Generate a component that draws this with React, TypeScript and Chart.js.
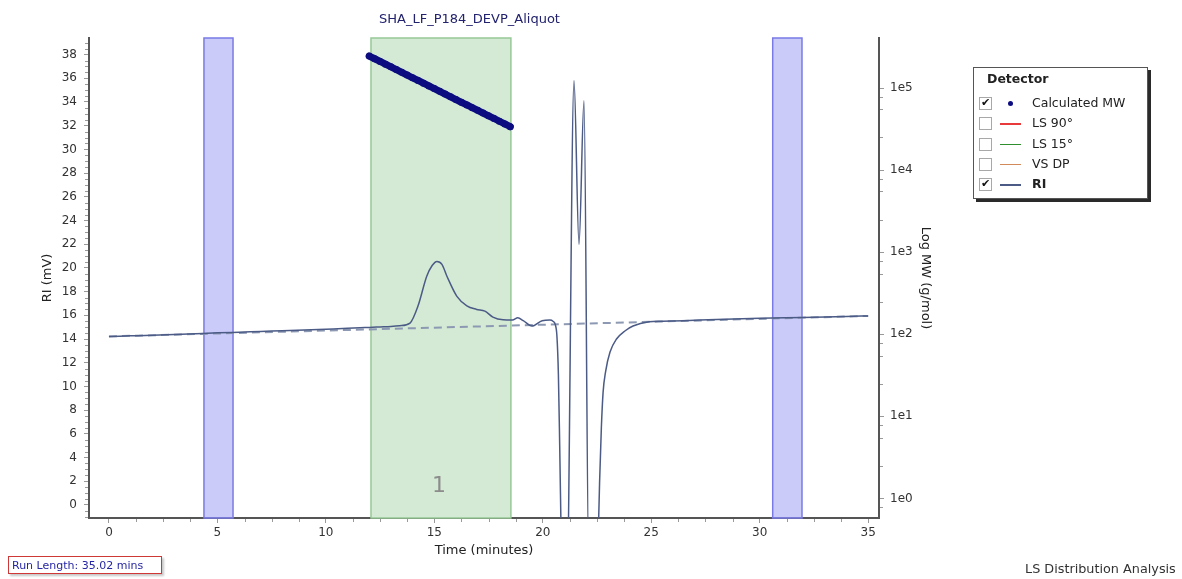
import React, { useEffect, useRef } from 'react';
import { Chart, registerables } from 'chart.js';

Chart.register(...registerables);

const chartTitle = 'SHA_LF_P184_DEVP_Aliquot';
const xAxisTitle = 'Time (minutes)';
const yAxisTitle = 'RI (mV)';
const y2AxisTitle = 'Log MW (g/mol)';
const footerLeft = 'Run Length: 35.02 mins';
const footerRight = 'LS Distribution Analysis';

const logTickValues = [1, 10, 100, 1000, 10000, 100000];
const logTickLabels = ['1e0', '1e1', '1e2', '1e3', '1e4', '1e5'];

const riTime = [0, 1, 2, 3, 4, 5, 6, 7, 8, 9, 10, 11, 11.57, 12, 12.5, 13, 13.4, 13.88, 14.25, 14.65, 14.9, 15.12, 15.35, 15.58, 16.04, 16.5, 16.95, 17.33, 17.7, 18.17, 18.6, 18.85, 19.1, 19.5, 19.97, 20.33, 20.47, 20.58, 20.65, 20.72, 20.78, 20.85, 20.9, 21.1, 21.44, 21.67, 21.9, 22.12, 22.5, 22.55, 22.62, 22.7, 22.78, 22.9, 23.1, 23.4, 23.8, 24.16, 24.9, 25.5, 26.5, 28, 30, 32, 34, 35];
const riValue = [14.22, 14.27, 14.32, 14.38, 14.45, 14.52, 14.58, 14.64, 14.70, 14.76, 14.83, 14.9, 14.95, 14.98, 15.02, 15.06, 15.12, 15.35, 16.8, 19.3, 20.2, 20.55, 20.3, 19.3, 17.6, 16.8, 16.5, 16.35, 15.85, 15.62, 15.6, 15.8, 15.55, 15.1, 15.55, 15.6, 15.5, 15.2, 14.3, 11, 5, -3, -8, -8, 35.8, 22.0, 34.1, -5, -5, -3, 2, 6.5, 9.5, 11.3, 12.9, 14.0, 14.7, 15.1, 15.45, 15.5, 15.55, 15.65, 15.75, 15.82, 15.9, 15.95];

const baselineTime = [0, 35];
const baselineValue = [14.22, 15.95];

const mwTime = [12.0, 12.25, 12.5, 12.75, 13.0, 13.25, 13.5, 13.75, 14.0, 14.25, 14.5, 14.75, 15.0, 15.25, 15.5, 15.75, 16.0, 16.25, 16.5, 16.75, 17.0, 17.25, 17.5, 17.75, 18.0, 18.25, 18.5];
const mwValue = [245000, 227500, 210900, 195400, 181100, 167900, 155200, 143900, 133400, 123600, 114600, 106200, 98400, 91200, 84500, 78300, 72400, 67100, 62200, 57700, 53500, 49500, 45900, 42600, 39400, 36500, 33800];

const excludeBands = [[4.38, 5.72], [30.6, 31.95]];
const peakBands = [[12.08, 18.53]];
const peakLabels = ['1'];

const legendTitle = 'Detector';
const legendItems = ['Calculated MW', 'LS 90°', 'LS 15°', 'VS DP', 'RI'];
const legendChecked = [true, false, false, false, true];
const legendColors = ['#0c0c80', '#e83a3a', '#2f8f2f', '#d28a5a', '#4b5b86'];
const legendIsDot = [true, false, false, false, false];
const legendBold = [false, false, false, false, true];

const FONT = "'DejaVu Sans', Verdana, sans-serif";

const bandsPlugin = {
  id: 'bands',
  beforeDatasetsDraw(chart: any) {
    const { ctx, chartArea: a, scales } = chart;
    const x = scales.x;
    ctx.save();
    peakBands.forEach(([s, e], i) => {
      const x1 = x.getPixelForValue(s);
      const x2 = x.getPixelForValue(e);
      ctx.fillStyle = 'rgba(212,234,212,1)';
      ctx.fillRect(x1, a.top, x2 - x1, a.bottom - a.top);
      ctx.strokeStyle = '#97c997';
      ctx.lineWidth = 1.5;
      ctx.strokeRect(x1, a.top, x2 - x1, a.bottom - a.top);
      ctx.fillStyle = '#8c8c8c';
      ctx.font = `22px ${FONT}`;
      ctx.textAlign = 'center';
      ctx.textBaseline = 'middle';
      ctx.fillText(peakLabels[i], (x1 + x2) / 2 - 2, a.bottom - 32);
    });
    excludeBands.forEach(([s, e]) => {
      const x1 = x.getPixelForValue(s);
      const x2 = x.getPixelForValue(e);
      ctx.fillStyle = 'rgba(160,160,245,0.55)';
      ctx.fillRect(x1, a.top, x2 - x1, a.bottom - a.top);
      ctx.strokeStyle = '#7a7ae6';
      ctx.lineWidth = 1.5;
      ctx.strokeRect(x1, a.top, x2 - x1, a.bottom - a.top);
    });
    ctx.restore();
  },
};

const minorTicksPlugin = {
  id: 'minorTicks',
  afterDraw(chart: any) {
    const { ctx, chartArea: a, scales } = chart;
    ctx.save();
    ctx.strokeStyle = '#9a9a9a';
    ctx.lineWidth = 1;
    const x = scales.x;
    for (let i = 0; i <= 28; i++) {
      if (i % 4 === 0) continue;
      const px = Math.round(x.getPixelForValue(i * 1.25)) + 0.5;
      ctx.beginPath();
      ctx.moveTo(px, a.bottom + 1);
      ctx.lineTo(px, a.bottom + 4);
      ctx.stroke();
    }
    const y = scales.y;
    for (let i = -2; i <= 78; i++) {
      if (i % 4 === 0) continue;
      const v = i * 0.5;
      if (v < y.min || v > y.max) continue;
      const py = Math.round(y.getPixelForValue(v)) + 0.5;
      ctx.beginPath();
      ctx.moveTo(a.left - 4, py);
      ctx.lineTo(a.left - 1, py);
      ctx.stroke();
    }
    const y2 = scales.y2;
    const mults = [2.5, 5.5, 7.8];
    for (let d = 0; d <= 5; d++) {
      mults.forEach((m) => {
        const v = m * Math.pow(10, d - 1);
        if (v < y2.min || v > y2.max) return;
        const py = Math.round(y2.getPixelForValue(v)) + 0.5;
        ctx.beginPath();
        ctx.moveTo(a.right + 1, py);
        ctx.lineTo(a.right + 4, py);
        ctx.stroke();
      });
    }
    ctx.restore();
  },
};

function ChartCanvas() {
  const ref = useRef<HTMLCanvasElement | null>(null);
  useEffect(() => {
    if (!ref.current) return;
    const chart = new Chart(ref.current, {
      type: 'line',
      data: {
        datasets: [
          {
            label: 'Calculated MW',
            data: mwTime.map((t, i) => ({ x: t, y: mwValue[i] })),
            yAxisID: 'y2',
            borderColor: '#0c0c80',
            backgroundColor: '#0c0c80',
            borderWidth: 7,
            borderCapStyle: 'round',
            pointRadius: 3.5,
            pointBorderWidth: 0,
            pointBackgroundColor: '#0c0c80',
            showLine: true,
          },
          {
            label: 'RI',
            data: riTime.map((t, i) => ({ x: t, y: riValue[i] })),
            yAxisID: 'y',
            borderColor: '#4b5b86',
            borderWidth: 1.5,
            pointRadius: 0,
            cubicInterpolationMode: 'monotone',
          },
          {
            label: 'Baseline',
            data: baselineTime.map((t, i) => ({ x: t, y: baselineValue[i] })),
            yAxisID: 'y',
            borderColor: '#8d99b3',
            borderWidth: 2,
            borderDash: [8, 5],
            pointRadius: 0,
          },
        ],
      },
      options: {
        animation: false,
        responsive: false,
        maintainAspectRatio: false,
        layout: { padding: { left: 0, right: 243, top: 0, bottom: 16 } },
        plugins: {
          legend: { display: false },
          tooltip: { enabled: false },
          title: {
            display: true,
            text: chartTitle,
            color: '#22226e',
            font: { family: FONT, size: 13, weight: 'normal' },
            padding: { top: 12.2, bottom: 10.2 },
          },
        },
        scales: {
          x: {
            type: 'linear',
            min: -0.92,
            max: 35.5,
            afterFit: (s: any) => { s.height = 45; },
            afterBuildTicks: (s: any) => { s.ticks = [0, 5, 10, 15, 20, 25, 30, 35].map((v) => ({ value: v })); },
            ticks: { stepSize: 5, includeBounds: false, color: '#333', padding: 3, maxRotation: 0, font: { family: FONT, size: 12 } },
            grid: { display: true, drawOnChartArea: false, drawTicks: true, tickLength: 5, color: '#999' },
            border: { display: true, color: '#555', width: 2 },
            title: { display: true, text: xAxisTitle, color: '#222', font: { family: FONT, size: 13 }, padding: { top: 0, bottom: 4.2 } },
          },
          y: {
            type: 'linear',
            position: 'left',
            min: -1.1,
            max: 39.4,
            afterFit: (s: any) => { s.width = 89; },
            ticks: { stepSize: 2, includeBounds: false, color: '#333', padding: 7, font: { family: FONT, size: 12 } },
            grid: { display: true, drawOnChartArea: false, drawTicks: true, tickLength: 5, color: '#999' },
            border: { display: true, color: '#555', width: 2 },
            title: { display: true, text: yAxisTitle, color: '#222', font: { family: FONT, size: 13 }, padding: { top: 40.2, bottom: 0 } },
          },
          y2: {
            type: 'logarithmic',
            position: 'right',
            min: 0.578,
            max: 407000,
            afterFit: (s: any) => { s.width = 60; },
            afterBuildTicks: (s: any) => { s.ticks = logTickValues.map((v) => ({ value: v })); },
            ticks: {
              color: '#333',
              padding: 6,
              font: { family: FONT, size: 12 },
              callback: (v: any) => {
                const i = logTickValues.indexOf(Number(v));
                return i >= 0 ? logTickLabels[i] : '';
              },
            },
            grid: { display: true, drawOnChartArea: false, drawTicks: true, tickLength: 5, color: '#999' },
            border: { display: true, color: '#555', width: 2 },
            title: { display: true, text: y2AxisTitle, color: '#222', font: { family: FONT, size: 13 }, padding: { top: 6.2, bottom: 0 } },
          },
        },
      },
      plugins: [bandsPlugin, minorTicksPlugin],
    } as any);
    return () => chart.destroy();
  }, []);
  return <canvas ref={ref} width={1182} height={579} style={{ position: 'absolute', left: 0, top: 0, width: 1182, height: 579 }} />;
}

function Legend() {
  return (
    <div style={{ position: 'absolute', left: 973, top: 67, width: 173, height: 130, border: '1px solid #555', background: '#fff', boxShadow: '3px 3px 0 #2a2a2a', fontFamily: FONT, fontSize: 12.5, color: '#222' }}>
      <div style={{ position: 'absolute', left: 13, top: 3, fontWeight: 'bold', lineHeight: '16px' }}>{legendTitle}</div>
      {legendItems.map((name, i) => (
        <div key={name} style={{ position: 'absolute', left: 0, top: 26 + i * 20.3, height: 18, width: 170 }}>
          <div style={{ position: 'absolute', left: 5, top: 3, width: 11, height: 11, border: '1px solid #a8a8a8', background: '#fff' }}>
            {legendChecked[i] ? (
              <span style={{ position: 'absolute', left: 1, top: -2, fontSize: 11, color: '#111', lineHeight: '14px' }}>✔</span>
            ) : null}
          </div>
          {legendIsDot[i] ? (
            <div style={{ position: 'absolute', left: 34, top: 7, width: 5, height: 5, borderRadius: 3, background: legendColors[i] }} />
          ) : (
            <div style={{ position: 'absolute', left: 26, top: 9, width: 21, height: 1.5, background: legendColors[i] }} />
          )}
          <div style={{ position: 'absolute', left: 58, top: 1, lineHeight: '16px', fontWeight: legendBold[i] ? 'bold' : 'normal', whiteSpace: 'nowrap' }}>{name}</div>
        </div>
      ))}
    </div>
  );
}

export default function App() {
  return (
    <div style={{ position: 'fixed', left: 0, top: 0, width: 1182, height: 579, background: '#fff', overflow: 'hidden' }}>
      <ChartCanvas />
      <Legend />
      <div style={{ position: 'absolute', left: 8, top: 556, width: 154, height: 18, border: '1px solid #d03838', boxShadow: '2px 2px 2px #c8c8c8', background: '#fff', fontFamily: FONT, fontSize: 11, color: '#2626a6', lineHeight: '17px', paddingLeft: 3, boxSizing: 'border-box', whiteSpace: 'nowrap' }}>{footerLeft}</div>
      <div style={{ position: 'absolute', left: 1025, top: 560, fontFamily: FONT, fontSize: 12.8, color: '#333', lineHeight: '17px', whiteSpace: 'nowrap' }}>{footerRight}</div>
    </div>
  );
}
